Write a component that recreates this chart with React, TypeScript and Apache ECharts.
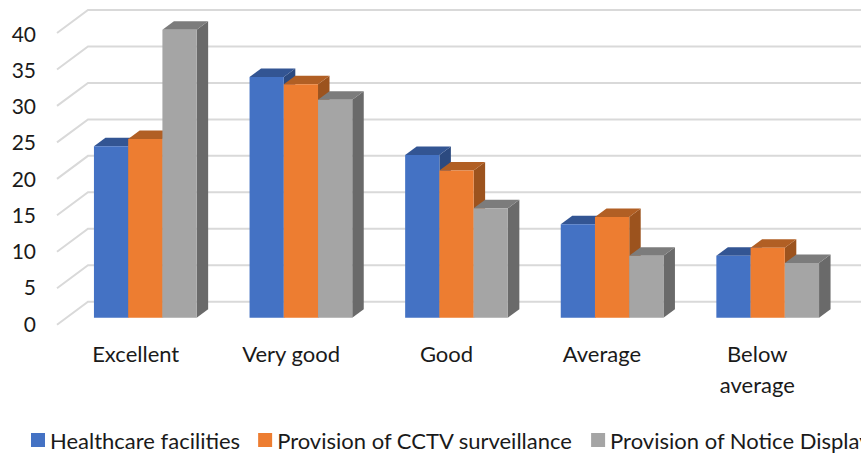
import React, { useEffect, useRef } from "react";
import * as echarts from "echarts";

const categories = ["Excellent", "Very good", "Good", "Average", "Below\naverage"];
const tickValues = [0, 5, 10, 15, 20, 25, 30, 35, 40];
const healthcare = [23.5, 33, 22.3, 12.8, 8.5];
const cctv = [24.5, 32, 20.2, 13.8, 9.6];
const notice = [39.5, 29.9, 15, 8.5, 7.5];
const seriesNames = ["Healthcare facilities", "Provision of CCTV surveillance", "Provision of Notice Display"];
const seriesValues = [healthcare, cctv, notice];
const faceColors = ["#4472c4", "#ed7d31", "#a5a5a5"];
const topColors = ["#335593", "#b15f24", "#7c7c7c"];
const sideColors = ["#2c4a80", "#9c531e", "#6a6a6a"];

const FONT = "Lato";
const TEXT = "#1a1a1a";

export default function App() {
  const ref = useRef<HTMLDivElement>(null);
  useEffect(() => {
    const chart = echarts.init(ref.current!, undefined, { renderer: "svg" });
    const barSeries = seriesNames.map((name, i) => ({
      name,
      type: "custom",
      xAxisIndex: 1,
      yAxisIndex: 1,
      z: 3,
      itemStyle: { color: faceColors[i] },
      encode: { x: 0, y: 1 },
      data: seriesValues[i].map((v, c) => [c, v]),
      renderItem: (_p: any, api: any) => {
        const top = api.coord([api.value(0), api.value(1)]);
        const base = api.coord([api.value(0), 0]);
        const band = api.size([1, 0])[0];
        const w = (band * 0.66) / 3;
        const x = top[0] - 1.5 * w + i * w;
        const dx = 11.5;
        const dy = -8.5;
        return {
          type: "group",
          children: [
            { type: "polygon", shape: { points: [[x + w, top[1]], [x + w + dx, top[1] + dy], [x + w + dx, base[1] + dy], [x + w, base[1]]] }, style: { fill: sideColors[i] } },
            { type: "polygon", shape: { points: [[x, top[1]], [x + dx, top[1] + dy], [x + w + dx, top[1] + dy], [x + w, top[1]]] }, style: { fill: topColors[i] } },
            { type: "rect", shape: { x, y: top[1], width: w, height: base[1] - top[1] }, style: { fill: faceColors[i] } },
          ],
        };
      },
    }));
    chart.setOption({
      animation: false,
      backgroundColor: "#ffffff",
      textStyle: { fontFamily: FONT },
      grid: [
        { left: 58, width: 777, top: 33, height: 290 },
        { left: 67.5, width: 778, top: 26, height: 291.7 },
      ],
      xAxis: [
        {
          type: "category",
          gridIndex: 0,
          data: categories,
          axisLine: { show: false },
          axisTick: { show: false },
          axisLabel: { color: TEXT, fontSize: 22, fontFamily: FONT, margin: 15, lineHeight: 31, interval: 0 },
        },
        {
          type: "category",
          gridIndex: 1,
          data: categories,
          axisLine: { show: false },
          axisTick: { show: false },
          axisLabel: { show: false },
        },
      ],
      yAxis: [
        {
          type: "value",
          gridIndex: 0,
          min: 0,
          max: 40,
          interval: 5,
          axisLine: { show: false },
          axisTick: { show: false },
          splitLine: { show: false },
          axisLabel: { color: TEXT, fontSize: 21, fontFamily: FONT, margin: 22, padding: [2, 0, 0, 0] },
        },
        {
          type: "value",
          gridIndex: 1,
          min: 0,
          max: 40,
          interval: 5,
          axisLine: { show: false },
          axisTick: { show: false },
          splitLine: { show: false },
          axisLabel: { show: false },
        },
      ],
      legend: {
        left: 26,
        top: 424,
        width: 1400,
        data: seriesNames,
        icon: "rect",
        itemWidth: 14,
        itemHeight: 14,
        itemGap: 18,
        textStyle: { color: TEXT, fontSize: 22, fontFamily: FONT },
      },
      series: [
        {
          name: "wall",
          type: "custom",
          xAxisIndex: 1,
          yAxisIndex: 1,
          z: 1,
          silent: true,
          encode: { x: 0, y: 1 },
          data: tickValues.map((v) => [0, v]),
          renderItem: (p: any, api: any) => {
            const y = api.coord([0, api.value(1)])[1];
            const x0 = p.coordSys.x;
            return {
              type: "polyline",
              shape: { points: [[x0 - 10.5, y + 7], [x0 + 20.5, y - 16], [x0 + 20.5 + p.coordSys.width, y - 16]] },
              style: { stroke: "#d9d9d9", lineWidth: 2, fill: "none" },
            };
          },
        },
        ...barSeries,
      ],
    } as any);
    return () => chart.dispose();
  }, []);
  return <div ref={ref} style={{ position: "absolute", left: 0, top: 0, width: 861, height: 457 }} />;
}
